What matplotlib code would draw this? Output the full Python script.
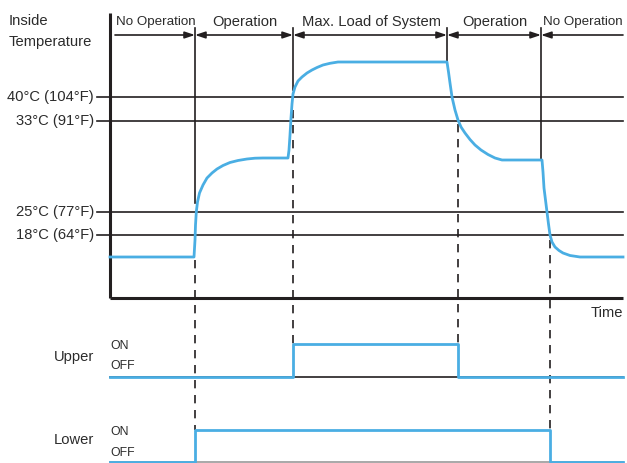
import matplotlib.pyplot as plt

# schematic diagram units: x = time, y = level (drawn top-down like the reference)
phase_names = ["No Operation", "Operation", "Max. Load of System", "Operation", "No Operation"]
phase_edges = [110, 195, 293, 447, 541, 623]
phase_line_ends = [203, 90, 62, 160]

threshold_labels = ["40°C (104°F)", "33°C (91°F)", "25°C (77°F)", "18°C (64°F)"]
threshold_levels = [97, 121, 212, 235]

temp_t = [110, 194, 195, 195.5, 196.3, 197.5, 199.5, 203, 207, 212, 217, 223, 230, 238,
          247, 255, 263, 288,
          289, 290, 291, 292, 293, 295, 298, 302, 307, 312, 317, 323, 330, 338, 447,
          448.5, 450, 452, 455, 458, 461, 465, 470, 475, 481, 488, 495, 502, 542,
          543, 544, 545.5, 547, 548.5, 550, 552, 555, 559, 563, 570, 580, 623]
temp_y = [257, 257, 240, 225, 212, 202, 193, 185, 178, 173, 169, 165.5, 162.5, 160.5,
          159, 158.2, 158, 158,
          150, 135, 118, 104, 94, 87, 81, 77, 73, 70, 67.5, 65, 63.3, 62, 62,
          72, 83, 97, 110, 120, 127, 133, 139.5, 145, 150, 154.5, 158, 160, 160,
          172, 188, 200, 212, 224, 235, 242, 247, 250.5, 253, 255.5, 257, 257]

upper_t = [110, 293, 458, 623]
upper_state = [0, 1, 0, 0]
lower_t = [110, 195, 550, 623]
lower_state = [0, 1, 0, 0]

# switching instants and where the curve passes them
switch_t = [195, 293, 458, 550]
switch_from = [260, 110, 124, 240]
switch_to = [430, 344, 344, 430]

BLUE = "#4aaee3"
DARK = "#231f20"
TXT = "#2b2b2b"
FS = 10.6

plt.rcParams["font.family"] = ["Liberation Sans", "DejaVu Sans"]

fig = plt.figure(figsize=(6.27, 4.63), dpi=100)
ax = fig.add_axes([0, 0, 1, 1])
ax.set_xlim(0, 627)
ax.set_ylim(463, 0)
ax.axis("off")

# axes of the temperature chart
ax.plot([110, 110], [13, 298], color=DARK, lw=2.2, solid_capstyle="butt")
ax.plot([110, 623], [298, 298], color=DARK, lw=2.2, solid_capstyle="butt")

# threshold lines
for lab, lv in zip(threshold_labels, threshold_levels):
    ax.plot([97, 623], [lv, lv], color=DARK, lw=1.2)
    ax.text(94, lv, lab, ha="right", va="center", fontsize=FS, color=TXT)

ax.text(9, 21, "Inside", ha="left", va="center", fontsize=FS, color=TXT)
ax.text(9, 42, "Temperature", ha="left", va="center", fontsize=FS, color=TXT)
ax.text(623, 313, "Time", ha="right", va="center", fontsize=FS, color=TXT)

# phase boundaries
for x, yend in zip(phase_edges[1:-1], phase_line_ends):
    ax.plot([x, x], [28, yend], color=DARK, lw=1.2)

# phase arrows and names
arrow_y = 35
for i, name in enumerate(phase_names):
    x0, x1 = phase_edges[i], phase_edges[i + 1]
    if i == 0:
        x0 = 115
        style = "-|>"
    elif i == len(phase_names) - 1:
        style = "<|-"
    else:
        style = "<|-|>"
    ax.annotate("", xy=(x1, arrow_y), xytext=(x0, arrow_y),
                arrowprops=dict(arrowstyle=style + ",head_length=0.6,head_width=0.2",
                                color=DARK, lw=1.2, shrinkA=0, shrinkB=0))
    fs = 9.6 if name == "No Operation" else FS
    ax.text((x0 + x1) / 2 + 1, 22, name, ha="center", va="center",
            fontsize=fs, color=TXT)

# switching dashed lines
for x, y0, y1 in zip(switch_t, switch_from, switch_to):
    ax.plot([x, x], [y0, y1], color=DARK, lw=1.2, dashes=(5, 4))

# temperature curve
ax.plot(temp_t, temp_y, color=BLUE, lw=2, solid_joinstyle="round")

# relay states
upper_lv = {0: 377, 1: 344}
lower_lv = {0: 462, 1: 430}
ax.plot([110, 623], [377, 377], color=DARK, lw=1.2)
ax.plot([110, 623], [462, 462], color="#999999", lw=1.2)
ax.step(upper_t, [upper_lv[s] for s in upper_state], where="post", color=BLUE, lw=2)
ax.step(lower_t, [lower_lv[s] for s in lower_state], where="post", color=BLUE, lw=2)

for name, lv, on_y, off_y in [("Upper", 357, 346, 366), ("Lower", 440, 432, 453)]:
    ax.text(94, lv, name, ha="right", va="center", fontsize=FS, color=TXT)
    ax.text(110, on_y, "ON", ha="left", va="center", fontsize=8.8, color=TXT)
    ax.text(110, off_y, "OFF", ha="left", va="center", fontsize=8.8, color=TXT)

fig.savefig("out.png", dpi=100)
